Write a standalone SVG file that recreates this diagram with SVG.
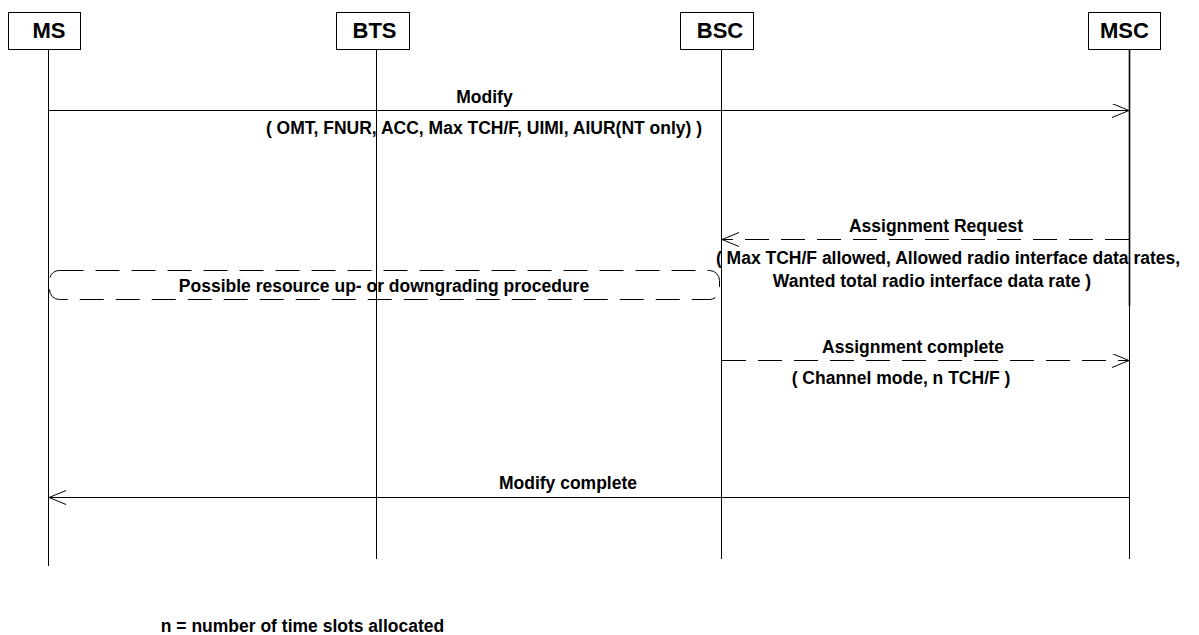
<svg xmlns="http://www.w3.org/2000/svg" width="1199" height="635" viewBox="0 0 1199 635">
<defs>
<style>
.box{fill:#fff;stroke:#000;stroke-width:1}
.life{stroke:#000;stroke-width:1;fill:none}
.hdr{font-family:"Liberation Sans",Arial,sans-serif;font-weight:bold;font-size:22px;text-anchor:middle}
.lbl{font-family:"Liberation Sans",Arial,sans-serif;font-weight:bold;font-size:17.5px;text-anchor:middle}
.msg{stroke:#000;stroke-width:1;fill:none}
.dash{stroke-dasharray:24 12}
</style>
<marker id="ah" markerWidth="20" markerHeight="16" refX="17" refY="7" orient="auto" markerUnits="userSpaceOnUse">
<path d="M0,0 L17,7 L0,14" fill="none" stroke="#000" stroke-width="1"/>
</marker>
</defs>
<rect width="1199" height="635" fill="#fff"/>
<g id="MS">
<rect class="box" x="8.5" y="12.5" width="72" height="37"/>
<text class="hdr" x="49" y="38">MS</text>
<line class="life" x1="48.5" y1="50" x2="48.5" y2="566"/>
</g>
<g id="BTS">
<rect class="box" x="336.5" y="12.5" width="73" height="37"/>
<text class="hdr" x="374.5" y="38">BTS</text>
<line class="life" x1="376.5" y1="50" x2="376.5" y2="559"/>
</g>
<g id="BSC">
<rect class="box" x="680.5" y="12.5" width="73" height="37"/>
<text class="hdr" x="720" y="38">BSC</text>
<line class="life" x1="721.5" y1="50" x2="721.5" y2="559"/>
</g>
<g id="MSC">
<rect class="box" x="1088.5" y="12.5" width="72" height="37"/>
<text class="hdr" x="1124.5" y="38">MSC</text>
<line class="life" x1="1129.5" y1="50" x2="1129.5" y2="559"/>
<line x1="1129.5" y1="50" x2="1129.5" y2="306" stroke="#000" stroke-width="1.6"/>
</g>
<g id="procedure">
<rect x="49.5" y="270.5" width="670" height="29" rx="10" ry="10" fill="none" stroke="#000" stroke-width="1" class="dash"/>
<text class="lbl" x="384" y="292">Possible resource up- or downgrading procedure</text>
</g>
<g id="connectors">
<line class="msg" x1="48.5" y1="110.5" x2="1129" y2="110.5" marker-end="url(#ah)"/>
<text class="lbl" x="484.5" y="103">Modify</text>
<text class="lbl" x="484" y="134">( OMT, FNUR, ACC, Max TCH/F, UIMI, AIUR(NT only) )</text>

<line class="msg dash" x1="1129" y1="239.5" x2="722" y2="239.5" marker-end="url(#ah)"/>
<text class="lbl" x="936" y="232">Assignment Request</text>
<text class="lbl" x="948" y="264">( Max TCH/F allowed, Allowed radio interface data rates,</text>
<text class="lbl" x="932" y="287">Wanted total radio interface data rate )</text>

<line class="msg dash" x1="722" y1="360.5" x2="1129" y2="360.5" marker-end="url(#ah)"/>
<text class="lbl" x="913" y="353">Assignment complete</text>
<text class="lbl" x="901" y="384">( Channel mode, n TCH/F )</text>

<line class="msg" x1="1129" y1="497.5" x2="49" y2="497.5" marker-end="url(#ah)"/>
<text class="lbl" x="568" y="489">Modify complete</text>
</g>
<text class="lbl" x="302.5" y="632">n = number of time slots allocated</text>
</svg>
